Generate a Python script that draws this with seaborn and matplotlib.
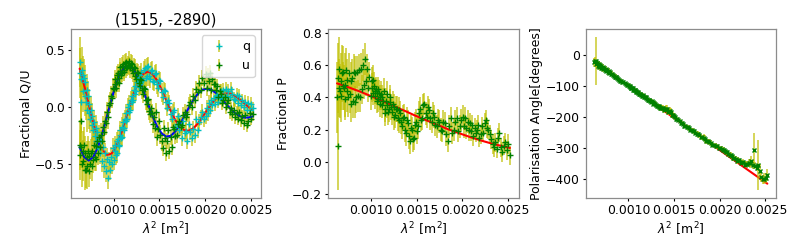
import numpy as np
import matplotlib
matplotlib.use("Agg")
import matplotlib.pyplot as plt
from matplotlib.ticker import MultipleLocator
import seaborn as sns

# lambda^2 of each channel, in units of 1e-3 m^2
lam2_e3 = [
    0.627, 0.634, 0.640, 0.647, 0.653, 0.660, 0.667, 0.674, 0.681, 0.688,
    0.695, 0.703, 0.710, 0.718, 0.726, 0.733, 0.741, 0.750, 0.758, 0.766,
    0.775, 0.784, 0.792, 0.801, 0.811, 0.820, 0.829, 0.839, 0.849, 0.859,
    0.869, 0.879, 0.890, 0.901, 0.912, 0.923, 0.934, 0.945, 0.957, 0.969,
    0.981, 0.994,
    1.006, 1.012, 1.019, 1.026, 1.033, 1.040, 1.046, 1.053, 1.060, 1.067,
    1.074, 1.081, 1.088, 1.095, 1.102, 1.110, 1.117, 1.125, 1.132, 1.140,
    1.148, 1.156, 1.163, 1.171, 1.179, 1.188, 1.196, 1.204, 1.212, 1.221,
    1.230, 1.238, 1.247, 1.256, 1.265, 1.274, 1.283, 1.292, 1.301, 1.311,
    1.321, 1.330, 1.340, 1.350, 1.360, 1.370, 1.380, 1.390, 1.401, 1.411,
    1.422, 1.433, 1.444, 1.455, 1.466, 1.477, 1.489, 1.500, 1.512, 1.524,
    1.536, 1.548, 1.560, 1.572, 1.585, 1.598, 1.611, 1.624, 1.637, 1.650,
    1.664, 1.677, 1.691, 1.705, 1.719, 1.733, 1.748, 1.763, 1.778, 1.793,
    1.808, 1.823, 1.839, 1.855, 1.872, 1.888, 1.904, 1.921, 1.938, 1.955,
    1.973, 1.990, 2.008, 2.020, 2.033, 2.045, 2.057, 2.070, 2.082, 2.095,
    2.108, 2.121, 2.134, 2.147, 2.160, 2.174, 2.187, 2.201, 2.215, 2.229,
    2.243, 2.257, 2.272, 2.286, 2.301, 2.316, 2.331, 2.346, 2.361, 2.376,
    2.392, 2.407, 2.423, 2.439, 2.456, 2.472, 2.489, 2.505, 2.522,
]

q_data = [
    .30, .40, .05, .25, .33, .28, .14, .26, .10, .22,
    .05, .15, -.02, .10, -.05, .03, -.10, -.02, -.16, -.08,
    -.20, -.13, -.25, -.18, -.30, -.22, -.36, -.28, -.40, -.30,
    -.47, -.35, -.52, -.40, -.56, -.45, -.62, -.48, -.55, -.44,
    -.50, -.36,
    -.46, -.38, -.33, -.42, -.40, -.30, -.28, -.33, -.34, -.24,
    -.20, -.27, -.26, -.17, -.13, -.20, -.18, -.10, -.05, -.12,
    -.10, .00, .03, -.04, -.02, .06, .10, .05, .06, .15,
    .19, .12, .14, .22, .26, .18, .20, .28, .31, .24,
    .24, .33, .34, .26, .27, .35, .36, .27, .25, .32,
    .33, .23, .22, .29, .30, .20, .17, .24, .23, .13,
    .09, .15, .14, .05, -.01, .06, .04, -.06, -.10, -.04,
    -.02, -.17, -.15, -.08, -.20, -.16, -.27, -.12, -.23, -.21,
    -.30, -.15, -.22, -.27, -.19, -.24, -.10, -.20, -.13, -.09,
    -.04, -.10, -.08, -.01, -.05, .04, -.02, .06, .02, .08,
    .03, .10, .11, .05, .08, .14, .09, .15, .10, .16,
    .10, .14, .09, .16, .12, .07, .06, .11, .04, .10,
    .02, .06, .00, .05, -.02, .04, -.02, .03, -.01,
]

u_data = [
    -.33, -.42, -.12, -.35, -.50, -.38, -.47, -.33, -.55, -.40,
    -.55, -.44, -.52, -.38, -.56, -.43, -.50, -.40, -.52, -.38,
    -.46, -.33, -.44, -.34, -.45, -.30, -.40, -.26, -.35, -.24,
    -.30, -.17, -.22, -.12, -.14, -.04, -.09, .02, .04, .10,
    .08, .17,
    .16, .20, .25, .17, .22, .28, .30, .21, .26, .32,
    .35, .28, .30, .36, .38, .31, .33, .39, .40, .34,
    .35, .37, .41, .36, .34, .39, .38, .33, .30, .35,
    .34, .27, .25, .31, .30, .21, .19, .25, .24, .15,
    .12, .17, .16, .06, .03, .06, .07, -.03, -.06, -.01,
    -.05, -.15, -.09, -.18, -.04, -.26, -.19, -.12, -.24, -.30,
    -.36, -.18, -.27, -.40, -.30, -.20, -.38, -.26, -.35, -.17,
    -.19, -.25, -.24, -.15, -.12, -.17, -.16, -.07, -.04, -.09,
    -.06, .02, .05, .00, .10, .06, .16, .13, .21, .15,
    .26, .21, .29, .17, .27, .23, .30, .15, .25, .20,
    .20, .15, .19, .09, .14, .12, .04, .06, .09, .00,
    .04, .06, -.04, -.01, -.06, -.02, -.09, -.05, -.10, -.04,
    -.11, -.08, -.14, -.07, -.16, -.12, -.05, -.10, -.06,
]

p_data = [
    .40, .52, .10, .46, .58, .44, .50, .41, .55, .47,
    .56, .46, .48, .39, .57, .44, .51, .40, .55, .42,
    .50, .36, .52, .38, .56, .37, .55, .40, .56, .41,
    .57, .40, .58, .45, .60, .48, .64, .50, .58, .46,
    .53, .41,
    .50, .46, .43, .51, .47, .44, .41, .45, .43, .38,
    .39, .45, .43, .40, .36, .42, .40, .35, .38, .44,
    .30, .33, .38, .42, .35, .31, .33, .40, .37, .34,
    .31, .36, .34, .28, .29, .33, .33, .27, .26, .32,
    .30, .25, .22, .27, .28, .20, .18, .26, .24, .16,
    .13, .21, .20, .14, .15, .23, .25, .19, .22, .30,
    .33, .26, .27, .35, .36, .30, .28, .34, .32, .27,
    .25, .30, .28, .23, .22, .26, .25, .20, .19, .25,
    .24, .17, .13, .22, .27, .18, .20, .25, .27, .19,
    .22, .26, .28, .22, .27, .21, .25, .20, .24, .19,
    .23, .16, .21, .18, .20, .23, .15, .17, .22, .18,
    .24, .26, .21, .20, .17, .14, .11, .09, .12, .08,
    .15, .18, .09, .06, .10, .12, .07, .11, .04,
]

ang_data = [
    -25, -21, -20, -30, -28, -27, -36, -30, -40, -33,
    -42, -36, -44, -41, -47, -44, -50, -46, -53, -50,
    -57, -53, -59, -57, -62, -61, -66, -67, -70, -70,
    -73, -76, -79, -80, -83, -84, -88, -88, -92, -93,
    -96, -98,
    -101, -100, -103, -106, -107, -107, -108, -112, -113, -113,
    -114, -117, -118, -118, -120, -123, -125, -125, -126, -130,
    -131, -130, -132, -136, -137, -136, -139, -143, -144, -144,
    -146, -150, -151, -150, -152, -157, -156, -158, -160, -164,
    -164, -165, -167, -171, -170, -171, -172, -178, -174, -173,
    -175, -184, -180, -181, -183, -194, -192, -197, -200, -206,
    -207, -210, -213, -218, -219, -222, -227, -227, -231, -233,
    -236, -240, -242, -243, -246, -251, -253, -254, -258, -263,
    -265, -266, -270, -276, -278, -279, -283, -289, -289, -293,
    -294, -299, -300, -301, -306, -306, -309, -313, -313, -318,
    -320, -322, -325, -332, -330, -333, -341, -338, -339, -346,
    -345, -343, -352, -351, -350, -347, -348, -342, -352, -305,
    -356, -362, -355, -373, -392, -400, -398, -395, -385,
]

# 1-sigma noise per channel (same for q, u and P)
err = [
    .22, .22, .28, .18, .20, .17, .18, .16, .18, .15,
    .16, .14, .20, .13, .14, .13, .13, .12, .13, .12,
    .12, .11, .12, .11, .11, .10, .11, .10, .10, .10,
    .10, .09, .10, .09, .10, .09, .10, .09, .09, .09,
    .09, .09,
    .09, .09, .08, .09, .09, .08, .08, .08, .08, .08,
    .08, .08, .08, .08, .08, .08, .08, .08, .08, .08,
    .08, .08, .08, .08, .08, .08, .08, .08, .08, .08,
    .08, .08, .08, .08, .08, .08, .08, .08, .08, .08,
    .08, .08, .08, .08, .08, .08, .08, .08, .08, .08,
    .08, .08, .08, .08, .08, .08, .08, .08, .08, .08,
    .07, .07, .07, .07, .07, .07, .07, .07, .07, .07,
    .07, .07, .07, .07, .07, .07, .07, .07, .07, .07,
    .07, .07, .07, .07, .07, .07, .07, .07, .07, .07,
    .07, .07, .07, .07, .07, .07, .07, .07, .06, .06,
    .06, .06, .06, .06, .06, .06, .06, .06, .06, .06,
    .06, .06, .06, .06, .06, .06, .06, .06, .06, .06,
    .06, .06, .06, .06, .06, .06, .06, .06, .06,
]

ang_err = [
    14, 12, 78, 11, 10, 11, 10, 11, 9, 9,
    8, 9, 9, 10, 7, 8, 7, 9, 7, 8,
    7, 9, 7, 8, 6, 8, 6, 7, 5, 7,
    5, 6, 5, 6, 5, 5, 4, 5, 5, 5,
    5, 6,
    5, 5, 5, 5, 5, 5, 5, 5, 5, 5,
    5, 5, 5, 5, 6, 5, 5, 5, 5, 5,
    7, 6, 6, 6, 6, 6, 6, 6, 6, 6,
    7, 6, 6, 7, 7, 6, 6, 8, 8, 7,
    7, 8, 9, 8, 8, 10, 11, 9, 9, 12,
    14, 10, 10, 13, 13, 9, 8, 10, 9, 7,
    6, 7, 7, 6, 6, 7, 7, 6, 6, 7,
    8, 7, 7, 8, 9, 8, 8, 9, 10, 8,
    8, 11, 14, 9, 7, 10, 9, 8, 7, 9,
    8, 7, 7, 8, 7, 9, 8, 8, 7, 9,
    8, 10, 8, 9, 9, 8, 10, 10, 8, 9,
    8, 8, 9, 9, 10, 12, 15, 18, 14, 55,
    12, 11, 80, 22, 15, 14, 18, 16, 20,
]

# best-fit model, sampled on a coarser grid (1e-3 m^2)
model_lam2_e3 = [
    0.627, 0.675, 0.725, 0.775, 0.825, 0.875, 0.925, 0.975, 1.025, 1.075,
    1.125, 1.175, 1.225, 1.275, 1.325, 1.375, 1.425, 1.475, 1.525, 1.575,
    1.625, 1.675, 1.725, 1.775, 1.825, 1.875, 1.925, 1.975, 2.025, 2.075,
    2.125, 2.175, 2.225, 2.275, 2.325, 2.375, 2.425, 2.475, 2.522,
]
model_q = [
    .339, .196, .030, -.134, -.273, -.372, -.418, -.409, -.348, -.248,
    -.122, .011, .134, .232, .293, .313, .292, .236, .155, .061,
    -.032, -.112, -.171, -.203, -.206, -.183, -.140, -.084, -.023, .034,
    .080, .111, .123, .120, .101, .073, .039, .004, -.025,
]
model_u = [
    -.351, -.437, -.468, -.439, -.355, -.231, -.083, .068, .201, .301,
    .358, .365, .326, .249, .146, .032, -.077, -.168, -.230, -.258,
    -.251, -.213, -.152, -.078, -.001, .067, .121, .154, .163, .151,
    .122, .081, .034, -.010, -.048, -.076, -.090, -.091, -.081,
]
model_p = [
    .488, .479, .469, .459, .448, .438, .426, .414, .402, .390,
    .378, .365, .353, .340, .327, .315, .302, .289, .277, .265,
    .253, .241, .229, .218, .206, .195, .185, .175, .165, .155,
    .146, .137, .128, .120, .112, .105, .098, .091, .085,
]
model_ang = [
    -23.0, -32.9, -43.2, -53.5, -63.8, -74.1, -84.4, -94.7, -105.0, -115.3,
    -125.6, -135.9, -146.2, -156.5, -166.8, -177.1, -187.4, -197.7, -208.0, -218.3,
    -228.6, -238.9, -249.2, -259.5, -269.8, -280.1, -290.4, -300.7, -311.0, -321.3,
    -331.6, -341.9, -352.2, -362.5, -372.8, -383.1, -393.4, -403.7, -413.4,
]

source_title = "(1515, -2890)"

lam2 = np.array(lam2_e3) * 1e-3
model_lam2 = np.array(model_lam2_e3) * 1e-3

sns.set_style("ticks")
plt.rcParams['font.family'] = ['DejaVu Sans']
plt.rcParams['font.size'] = 9
plt.rcParams['axes.edgecolor'] = '0.55'
plt.rcParams['axes.linewidth'] = 0.9
for key in ['text.color', 'axes.labelcolor', 'xtick.color', 'ytick.color']:
    plt.rcParams[key] = 'black'

ecol = (0.75, 0.75, 0.0, 0.7)
xlabel = r'$\lambda^2$ [m$^2$]'

fig, axes = plt.subplots(1, 3, figsize=(7.89, 2.47), dpi=100)
fig.subplots_adjust(left=0.09, right=0.9835, bottom=0.198, top=0.883, wspace=0.353)

# Q/U
ax = axes[0]
ax.errorbar(lam2, q_data, yerr=err, fmt='c+', ecolor=ecol, elinewidth=1.3,
            ms=4, mew=1, label='q')
sns.lineplot(x=model_lam2, y=model_q, color='r', lw=1.5, ax=ax)
ax.errorbar(lam2, u_data, yerr=err, fmt='g+', ecolor=ecol, elinewidth=1.3,
            ms=4, mew=1, label='u')
sns.lineplot(x=model_lam2, y=model_u, color='b', lw=1.5, ax=ax)
ax.yaxis.set_major_locator(MultipleLocator(0.5))
ax.set_title(source_title, fontsize=10.6, pad=3)
ax.set_ylabel('Fractional Q/U', labelpad=1.5)
ax.set_xlabel(xlabel, labelpad=2)
ax.legend(loc='upper right')

# P
ax = axes[1]
ax.errorbar(lam2, p_data, yerr=err, fmt='g+', ecolor=ecol, elinewidth=1.3,
            ms=4, mew=1)
sns.lineplot(x=model_lam2, y=model_p, color='r', lw=1.5, ax=ax)
ax.set_ylabel('Fractional P', labelpad=1.5)
ax.set_xlabel(xlabel, labelpad=2)

# angle
ax = axes[2]
sns.lineplot(x=model_lam2, y=model_ang, color='r', lw=1.5, ax=ax)
ax.errorbar(lam2, ang_data, yerr=ang_err, fmt='gx', ecolor=ecol, elinewidth=1.3,
            ms=3.5, mew=1)
ax.set_ylabel('Polarisation Angle[degrees]', labelpad=1.5)
ax.set_xlabel(xlabel, labelpad=2)

for ax in axes:
    ax.xaxis.set_major_locator(MultipleLocator(0.0005))
    ax.tick_params(labelsize=8.9, length=2.5, width=0.8, pad=2)

fig.savefig('out.png', dpi=100)
